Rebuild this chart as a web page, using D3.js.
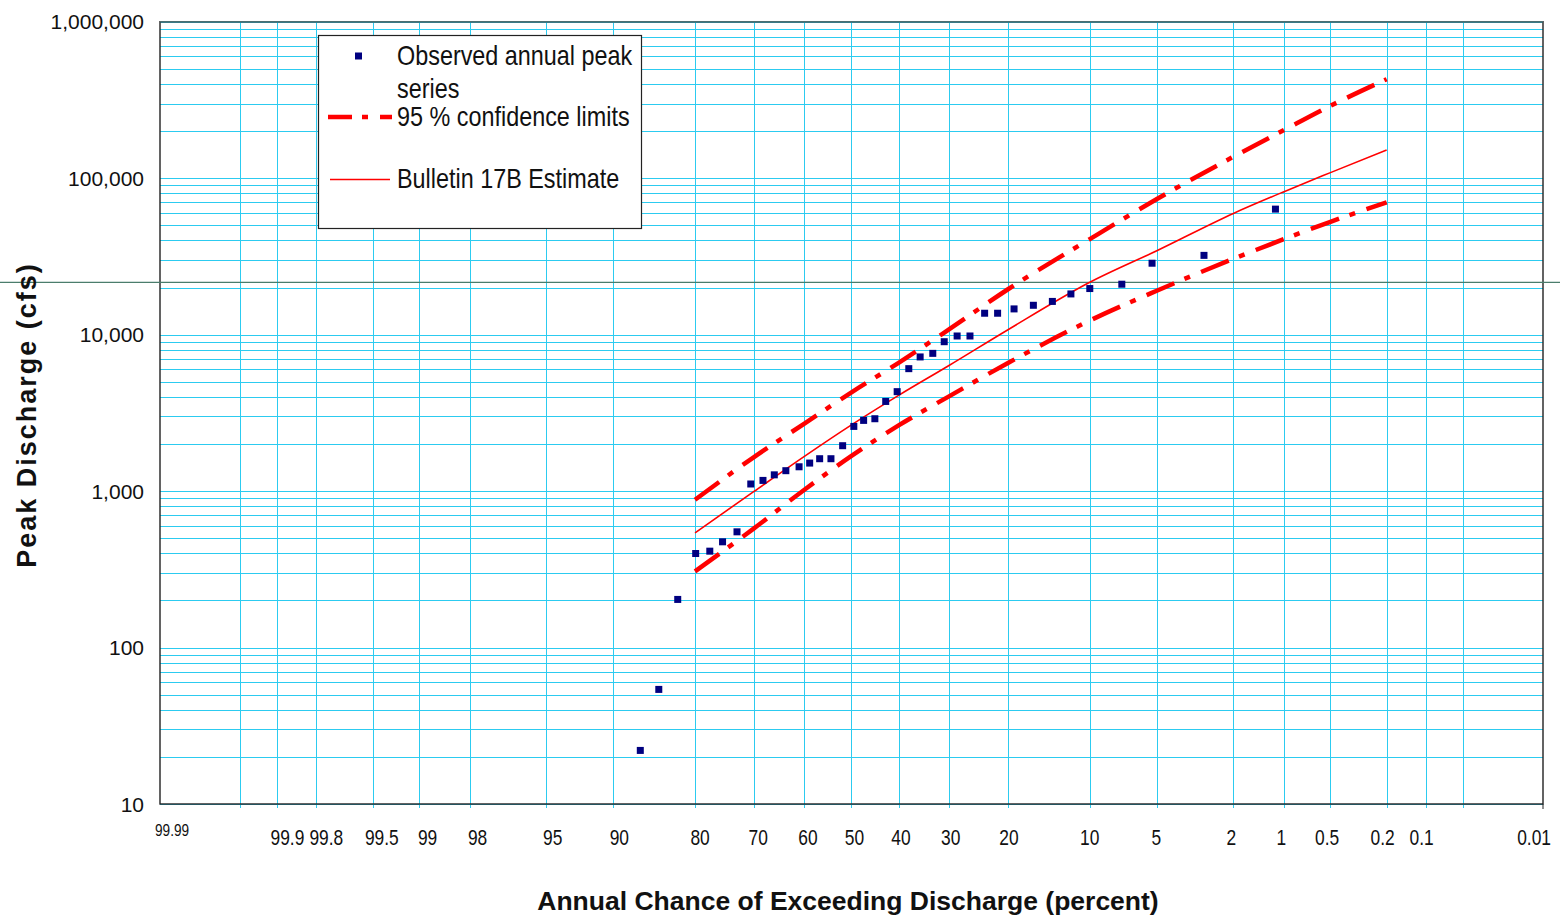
<!DOCTYPE html>
<html>
<head>
<meta charset="utf-8">
<script src="https://cdn.jsdelivr.net/npm/d3@7"></script>
<style>
  body { margin: 0; background: #fff; }
  svg { display: block; }
</style>
</head>
<body>
<div class="freqChart"></div>
<script>
// observed annual peaks: exceedance percent / discharge (cfs)
const obsPct = [87.2, 85.0, 82.5, 79.9, 77.7, 75.6, 73.1, 70.6, 68.3, 66.1, 63.8, 61.1, 58.9, 56.8, 54.4,
                51.9, 49.5, 47.4, 45.0, 42.7, 40.3, 37.9, 35.6, 33.1, 30.9, 28.5, 26.2, 23.7, 21.6, 19.1,
                16.4, 14.0, 11.9, 10.0, 7.3, 5.3, 2.9, 1.13];
const obsQ = [22, 54, 203, 399, 413, 474, 549, 1110, 1170, 1270, 1350, 1430, 1510, 1610, 1610,
              1950, 2590, 2830, 2900, 3740, 4320, 6060, 7200, 7590, 9010, 9800, 9800, 13700, 13700, 14600,
              15400, 16300, 18200, 19700, 21000, 28600, 32100, 63400];

// Bulletin 17B frequency curve and 95% limits
const estPct = [80, 70, 60, 50, 40, 30, 20, 10, 5, 2, 1, 0.5, 0.2];
const estQ = [541, 995, 1667, 2650, 4090, 6350, 10750, 21600, 34500, 59500, 82000, 108500, 151500];
const upperQ = [880, 1650, 2700, 4280, 6600, 10800, 19500, 40800, 73800, 137000, 203000, 290000, 429000];
const lowerQ = [307, 578, 1020, 1680, 2630, 4030, 6590, 12300, 19150, 30500, 40800, 52600, 70000];

// horizontal reference line (cfs)
const refQ = 21600;

// axis ticks
const yTicks = [10, 100, 1000, 10000, 100000, 1000000];
const xGrid = [99.95, 99.9, 99.8, 99.5, 99, 98, 95, 90, 80, 70, 60, 50, 40, 30, 20, 10, 5, 2, 1, 0.5, 0.2, 0.1, 0.05];
const xLabels = [99.9, 99.8, 99.5, 99, 98, 95, 90, 80, 70, 60, 50, 40, 30, 20, 10, 5, 2, 1, 0.5, 0.2, 0.1];
const xEnds = [99.99, 0.01];

const legendItems = ['Observed annual peak', 'series', '95 % confidence limits', 'Bulletin 17B Estimate'];

// size
const W = 1560, H = 920;
const margin = {top: 21.7, right: 17, bottom: 116, left: 160};

// inverse normal cdf (Acklam)
function probit(p) {
    const a = [-3.969683028665376e+01, 2.209460984245205e+02, -2.759285104469687e+02, 1.383577518672690e+02, -3.066479806614716e+01, 2.506628277459239e+00];
    const b = [-5.447609879822406e+01, 1.615858368580409e+02, -1.556989798598866e+02, 6.680131188771972e+01, -1.328068155288572e+01];
    const c = [-7.784894002430293e-03, -3.223964580411365e-01, -2.400758277161838e+00, -2.549671348283429e+00, 4.374664141464968e+00, 2.938163982698783e+00];
    const d = [7.784695709041462e-03, 3.224671290700398e-01, 2.445134137142996e+00, 3.754408661907416e+00];
    const plow = 0.02425;
    let q, r;
    if (p < plow) {
        q = Math.sqrt(-2 * Math.log(p));
        return (((((c[0]*q+c[1])*q+c[2])*q+c[3])*q+c[4])*q+c[5]) / ((((d[0]*q+d[1])*q+d[2])*q+d[3])*q+1);
    }
    if (p > 1 - plow) {
        q = Math.sqrt(-2 * Math.log(1 - p));
        return -(((((c[0]*q+c[1])*q+c[2])*q+c[3])*q+c[4])*q+c[5]) / ((((d[0]*q+d[1])*q+d[2])*q+d[3])*q+1);
    }
    q = p - 0.5; r = q * q;
    return (((((a[0]*r+a[1])*r+a[2])*r+a[3])*r+a[4])*r+a[5])*q / (((((b[0]*r+b[1])*r+b[2])*r+b[3])*r+b[4])*r+1);
}
const zOf = pct => probit(1 - pct / 100);

// no narrow font installed: squeeze the text instead
function condense(sel, k) {
    sel.each(function() {
        const w = this.getComputedTextLength();
        d3.select(this)
            .attr('textLength', w * k)
            .attr('lengthAdjust', 'spacingAndGlyphs');
    });
}

// scales
const xz = d3.scaleLinear()
    .domain([zOf(99.99), zOf(0.01)])
    .range([margin.left, W - margin.right]);
const x = pct => xz(zOf(pct));

const y = d3.scaleLog()
    .domain([10, 1e6])
    .range([H - margin.bottom, margin.top]);

// labels sit a bit right of their lines on the left, a bit left on the right
const labelShift = d3.scaleLinear()
    .domain([margin.left, W - margin.right])
    .range([12, -6]);

const svg = d3.select('.freqChart')
    .append('svg')
    .attr('width', W)
    .attr('height', H)
    .style('font-family', '"Liberation Sans", Arial, sans-serif');

const gridColor = '#2ccbf0';
const x0 = margin.left, x1 = W - margin.right;
const y0 = H - margin.bottom, y1 = margin.top;

// horizontal grid: every 1..9 in each decade
const hGrid = [];
for (let dec = 10; dec < 1e6; dec *= 10) {
    for (let k = 1; k <= 9; k++) hGrid.push(dec * k);
}
hGrid.push(1e6);

svg.append('g')
    .selectAll('line')
    .data(hGrid)
    .enter()
    .append('line')
    .attr('x1', x0).attr('x2', x1)
    .attr('y1', d => Math.round(y(d)) + 0.5)
    .attr('y2', d => Math.round(y(d)) + 0.5)
    .attr('stroke', gridColor)
    .attr('stroke-width', 1);

// vertical grid, ticks poke below the axis
svg.append('g')
    .selectAll('line')
    .data(xGrid)
    .enter()
    .append('line')
    .attr('x1', d => Math.round(x(d)) + 0.5)
    .attr('x2', d => Math.round(x(d)) + 0.5)
    .attr('y1', y1).attr('y2', y0 + 4)
    .attr('stroke', gridColor)
    .attr('stroke-width', 1);

// frame
svg.append('rect')
    .attr('x', x0).attr('y', y1)
    .attr('width', x1 - x0).attr('height', y0 - y1)
    .attr('fill', 'none')
    .attr('stroke', '#222')
    .attr('stroke-width', 1.4);
svg.append('line')
    .attr('x1', x0).attr('x2', x1)
    .attr('y1', y1).attr('y2', y1)
    .attr('stroke', '#4d6f72')
    .attr('stroke-width', 1.4);
svg.append('line')
    .attr('x1', x1).attr('x2', x1)
    .attr('y1', y0).attr('y2', y0 + 5)
    .attr('stroke', '#222');

// reference line across the whole picture
svg.append('line')
    .attr('x1', 0).attr('x2', W)
    .attr('y1', y(refQ)).attr('y2', y(refQ))
    .attr('stroke', '#4a7d6c')
    .attr('stroke-width', 1.3);

// y tick labels
svg.append('g')
    .selectAll('text')
    .data(yTicks)
    .enter()
    .append('text')
    .attr('x', 144)
    .attr('y', d => y(d) + 7.5)
    .attr('text-anchor', 'end')
    .style('font-size', '21px')
    .style('fill', '#111')
    .text(d => d3.format(',')(d));

// x tick labels
const xt = svg.append('g')
    .selectAll('text')
    .data(xLabels)
    .enter()
    .append('text')
    .attr('x', d => x(d) + labelShift(x(d)))
    .attr('y', 845)
    .attr('text-anchor', 'middle')
    .style('font-size', '22px')
    .style('fill', '#111')
    .text(d => d);
condense(xt, 0.79);

const xe0 = svg.append('text')
    .attr('x', x(xEnds[0]) - 5)
    .attr('y', 836)
    .style('font-size', '17px')
    .style('fill', '#111')
    .text(xEnds[0]);
const xe1 = svg.append('text')
    .attr('x', x(xEnds[1]) + 8)
    .attr('y', 845)
    .attr('text-anchor', 'end')
    .style('font-size', '22px')
    .style('fill', '#111')
    .text(xEnds[1]);
condense(xe0, 0.8);
condense(xe1, 0.79);

// axis titles
svg.append('text')
    .attr('x', 848)
    .attr('y', 910)
    .attr('text-anchor', 'middle')
    .style('font-size', '26.5px')
    .style('font-weight', 'bold')
    .style('fill', '#111')
    .text('Annual Chance of Exceeding Discharge (percent)');

svg.append('text')
    .attr('transform', 'translate(36,415) rotate(-90)')
    .attr('text-anchor', 'middle')
    .style('font-size', '27px')
    .style('font-weight', 'bold')
    .style('letter-spacing', '2px')
    .style('fill', '#111')
    .text('Peak Discharge (cfs)');

// curves
const line = d3.line()
    .x(d => x(d[0]))
    .y(d => y(d[1]))
    .curve(d3.curveMonotoneX);

const ciDash = '30,11,6,12';

svg.append('path')
    .datum(d3.zip(estPct, upperQ))
    .attr('d', line)
    .attr('fill', 'none')
    .attr('stroke', '#ff0000')
    .attr('stroke-width', 4.5)
    .attr('stroke-dasharray', ciDash);

svg.append('path')
    .datum(d3.zip(estPct, lowerQ))
    .attr('d', line)
    .attr('fill', 'none')
    .attr('stroke', '#ff0000')
    .attr('stroke-width', 4.5)
    .attr('stroke-dasharray', ciDash);

svg.append('path')
    .datum(d3.zip(estPct, estQ))
    .attr('d', line)
    .attr('fill', 'none')
    .attr('stroke', '#ff0000')
    .attr('stroke-width', 1.6);

// observed points
svg.append('g')
    .selectAll('rect')
    .data(d3.zip(obsPct, obsQ))
    .enter()
    .append('rect')
    .attr('x', d => x(d[0]) - 3.5)
    .attr('y', d => y(d[1]) - 3.5)
    .attr('width', 7)
    .attr('height', 7)
    .attr('fill', '#000080');

// legend
const lg = svg.append('g').attr('class', 'legend');
lg.append('rect')
    .attr('x', 318.5).attr('y', 35.5)
    .attr('width', 323).attr('height', 193)
    .attr('fill', '#fff')
    .attr('stroke', '#222')
    .attr('stroke-width', 1.2);
lg.append('rect')
    .attr('x', 355).attr('y', 52.5)
    .attr('width', 7).attr('height', 7)
    .attr('fill', '#000080');
lg.append('line')
    .attr('x1', 328).attr('x2', 392)
    .attr('y1', 117).attr('y2', 117)
    .attr('stroke', '#ff0000')
    .attr('stroke-width', 4.5)
    .attr('stroke-dasharray', '24,10,6,12');
lg.append('line')
    .attr('x1', 330).attr('x2', 390)
    .attr('y1', 179.5).attr('y2', 179.5)
    .attr('stroke', '#ff0000')
    .attr('stroke-width', 1.6);

const legendY = [65, 98, 126, 188];
const lt = lg.selectAll('.lt')
    .data(legendItems)
    .enter()
    .append('text')
    .attr('class', 'lt')
    .attr('x', 397)
    .attr('y', (d, i) => legendY[i])
    .style('font-size', '28px')
    .style('fill', '#111')
    .text(d => d);
condense(lt, 0.835);
</script>
</body>
</html>
